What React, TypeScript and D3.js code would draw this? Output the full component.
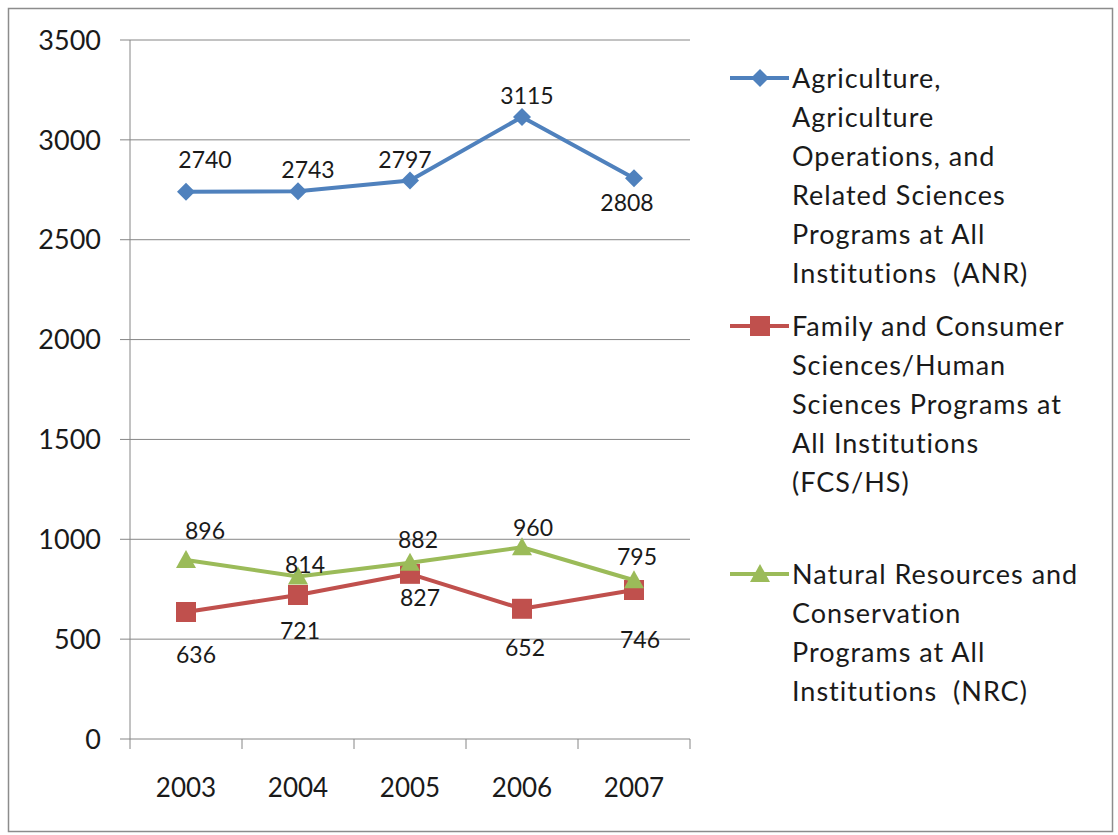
import * as d3 from "d3";

const YEARS = ["2003", "2004", "2005", "2006", "2007"];
const ANR = [2740, 2743, 2797, 3115, 2808];
const FCS = [636, 721, 827, 652, 746];
const NRC = [896, 814, 882, 960, 795];
const Y_TICKS = [0, 500, 1000, 1500, 2000, 2500, 3000, 3500];

const ANR_LABEL = [
  "Agriculture,",
  "Agriculture",
  "Operations, and",
  "Related Sciences",
  "Programs at All",
  "Institutions  (ANR)",
];
const FCS_LABEL = [
  "Family and Consumer",
  "Sciences/Human",
  "Sciences Programs at",
  "All Institutions",
  "(FCS/HS)",
];
const NRC_LABEL = [
  "Natural Resources and",
  "Conservation",
  "Programs at All",
  "Institutions  (NRC)",
];

// label nudges [dx, dy] relative to each point, as Excel placed them
const ANR_NUDGE = [[19, -32], [10, -21], [-5, -21], [5, -21], [-7, 25]];
const FCS_NUDGE = [[10, 43], [2, 36], [10, 24], [3, 39], [6, 50]];
const NRC_NUDGE = [[19, -29], [7, -12], [8, -23], [11, -20], [3, -24]];

const W = 1118;
const H = 835;
const M = { left: 130, right: 690, top: 40, bottom: 739 };
const FONT = "Lato, 'Open Sans', sans-serif";
const INK = "#1a1a1a";
const GRID = "#868686";

type Marker = "diamond" | "square" | "triangle";

function markerPath(kind: Marker, cx: number, cy: number) {
  if (kind === "diamond") {
    const r = 9;
    return `M${cx},${cy - r}L${cx + r},${cy}L${cx},${cy + r}L${cx - r},${cy}Z`;
  }
  if (kind === "square") {
    const r = 10;
    return `M${cx - r},${cy - r}h${2 * r}v${2 * r}h${-2 * r}Z`;
  }
  return `M${cx},${cy - 10}L${cx + 10},${cy + 8}L${cx - 10},${cy + 8}Z`;
}

const SERIES = [
  { key: "anr", values: ANR, color: "#4F81BD", marker: "diamond" as Marker, nudge: ANR_NUDGE, label: ANR_LABEL, legendY: 78 },
  { key: "fcs", values: FCS, color: "#C0504D", marker: "square" as Marker, nudge: FCS_NUDGE, label: FCS_LABEL, legendY: 326 },
  { key: "nrc", values: NRC, color: "#9BBB59", marker: "triangle" as Marker, nudge: NRC_NUDGE, label: NRC_LABEL, legendY: 574 },
];

export default function App() {
  const x = d3.scaleBand<string>().domain(YEARS).range([M.left, M.right]);
  const y = d3.scaleLinear().domain([0, 3500]).range([M.bottom, M.top]);
  const cx = (yr: string) => (x(yr) ?? 0) + x.bandwidth() / 2;

  const line = d3
    .line<number>()
    .x((_, i) => cx(YEARS[i]))
    .y((d) => y(d));

  const boundaries = [...YEARS.map((yr) => x(yr) ?? 0), M.right];

  return (
    <div style={{ position: "absolute", left: 0, top: 0 }}>
      <svg width={W} height={H} style={{ display: "block", fontFamily: FONT }}>
        <rect x={0} y={0} width={W} height={H} fill="#fff" />
        <rect x={8.5} y={8.5} width={1104} height={823} fill="none" stroke="#8c8c8c" strokeWidth={1.5} />

        {/* gridlines + y ticks */}
        {Y_TICKS.map((t) => (
          <g key={t}>
            <line x1={M.left - 10} x2={M.right} y1={y(t)} y2={y(t)} stroke={GRID} strokeWidth={1} />
            <text x={101} y={y(t)} dy="0.36em" textAnchor="end" fontSize={27} fill={INK}>
              {t}
            </text>
          </g>
        ))}
        <line x1={M.left} x2={M.left} y1={M.top} y2={M.bottom} stroke={GRID} strokeWidth={1} />
        {boundaries.map((b, i) => (
          <line key={i} x1={b} x2={b} y1={M.bottom} y2={M.bottom + 10} stroke={GRID} strokeWidth={1} />
        ))}
        {YEARS.map((yr) => (
          <text key={yr} x={cx(yr)} y={797} textAnchor="middle" fontSize={26} fill={INK}>
            {yr}
          </text>
        ))}

        {/* series */}
        {SERIES.map((s) => (
          <g key={s.key}>
            <path d={line(s.values) ?? ""} fill="none" stroke={s.color} strokeWidth={4} strokeLinejoin="round" />
            {s.values.map((v, i) => (
              <path key={i} d={markerPath(s.marker, cx(YEARS[i]), y(v))} fill={s.color} />
            ))}
          </g>
        ))}
        {SERIES.map((s) =>
          s.values.map((v, i) => (
            <text
              key={s.key + i}
              x={cx(YEARS[i]) + s.nudge[i][0]}
              y={y(v) + s.nudge[i][1]}
              dy="0.36em"
              textAnchor="middle"
              fontSize={23}
              fill={INK}
            >
              {v}
            </text>
          ))
        )}

        {/* legend */}
        {SERIES.map((s) => (
          <g key={"lg" + s.key}>
            <line x1={730} x2={789} y1={s.legendY} y2={s.legendY} stroke={s.color} strokeWidth={4} />
            <path d={markerPath(s.marker, 760, s.legendY)} fill={s.color} />
            {s.label.map((t, j) => (
              <text
                key={j}
                x={792}
                y={s.legendY + j * 39}
                dy="0.36em"
                fontSize={27}
                letterSpacing={1}
                fill={INK}
                style={{ whiteSpace: "pre" }}
              >
                {t}
              </text>
            ))}
          </g>
        ))}
      </svg>
    </div>
  );
}
